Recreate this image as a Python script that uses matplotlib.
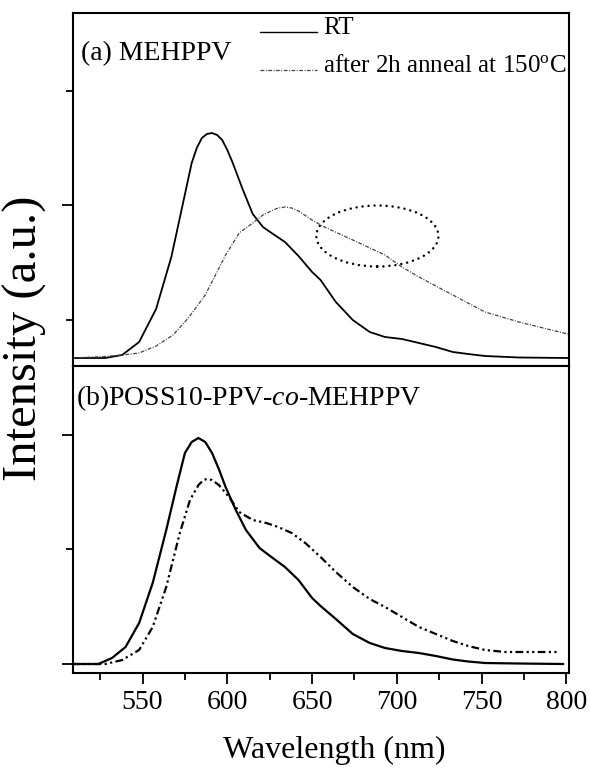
import matplotlib
matplotlib.use('Agg')
import matplotlib.pyplot as plt
from matplotlib.patches import Ellipse
from matplotlib.ticker import FixedLocator, NullFormatter

plt.rcParams['font.family'] = ['Liberation Serif', 'DejaVu Serif']
plt.rcParams['mathtext.fontset'] = 'custom'
plt.rcParams['mathtext.rm'] = 'Liberation Serif'
plt.rcParams['mathtext.it'] = 'Liberation Serif:italic'

# (a) MEHPPV, PL spectra (a.u.)
wl_a_rt = [508, 528, 538, 548, 558, 567, 573, 579, 582, 585, 588, 591, 594, 597,
           600, 603, 609, 615, 621, 627, 634, 642, 650, 655, 664, 674, 684, 693,
           703, 713, 723, 733, 742, 752, 772, 801]
int_a_rt = [0, 0, 3, 16, 49, 101, 148, 195, 210, 220, 224, 225, 223, 218,
            208, 196, 169, 144, 131, 124, 116, 102, 86, 78, 56, 38, 26, 21,
            19, 15, 11, 6, 4, 2, 0.5, 0]
wl_a_ann = [508, 528, 538, 548, 558, 568, 577, 587, 593, 599, 607, 615, 621, 627,
            630, 634, 638, 642, 650, 656, 674, 693, 703, 713, 733, 752, 772, 791, 801]
int_a_ann = [0, 1.5, 3, 5, 12, 23, 40, 63, 83, 103, 125, 135, 143, 148,
             150, 151, 150, 147, 138, 132, 118, 103, 91, 81, 63, 46, 36, 28, 24]

# (b) POSS10-PPV-co-MEHPPV
wl_b_rt = [508, 524, 532, 540, 548, 556, 564, 570, 575, 579, 583, 587, 591, 595,
           599, 605, 611, 619, 626, 634, 642, 650, 655, 664, 674, 684, 693, 703,
           713, 723, 733, 742, 752, 772, 798]
int_b_rt = [0, 0, 6, 17, 41, 81, 134, 177, 211, 222, 226, 222, 211, 195,
            177, 154, 134, 116, 107, 97, 84, 66, 58, 45, 30, 21, 16, 13,
            11, 8, 4.5, 2.5, 1, 0.5, 0]
wl_b_ann = [508, 528, 538, 548, 556, 564, 572, 578, 583, 586, 588, 591, 595, 601,
            607, 615, 623, 630, 638, 646, 655, 664, 674, 684, 693, 703, 713, 723,
            733, 742, 752, 764, 772, 796]
int_b_ann = [0, 0, 4, 14, 37, 77, 131, 164, 179, 184, 185, 184, 179, 167,
             152, 144, 141, 137, 131, 121, 107, 92, 77, 65, 57, 47, 37, 30,
             23, 18, 14, 12, 12, 12]

x_major = [550, 600, 650, 700, 750, 800]
x_minor = [525, 575, 625, 675, 725, 775]
ya_major, ya_minor = [153], [38, 267]
yb_major, yb_minor = [0, 229], [115]

# dotted circle marking the shoulder
ell_center = (688.5, 122)
ell_w, ell_h = 72, 61

ann_style = (0, (3, 1.2, 0.8, 1.2))

fig = plt.figure(figsize=(5.9, 7.75), dpi=100)
ax1 = fig.add_axes([0.1237, 0.52774, 0.8407, 0.45548])
ax2 = fig.add_axes([0.1237, 0.13161, 0.8407, 0.39613])

ax1.plot(wl_a_rt, int_a_rt, color='black', lw=1.3)
ax1.plot(wl_a_ann, int_a_ann, color='#444444', lw=0.9, linestyle=ann_style)
ax1.add_patch(Ellipse(ell_center, ell_w, ell_h, fill=False, color='black',
                      lw=1.8, linestyle=(0, (0.01, 2.4)), capstyle='round'))

ax2.plot(wl_b_rt, int_b_rt, color='black', lw=1.6)
ax2.plot(wl_b_ann, int_b_ann, color='black', lw=1.6,
         dashes=(3.5, 1.5, 1, 1.5, 1, 1.5))

for ax in (ax1, ax2):
    ax.set_xlim(509, 801.5)
    for s in ax.spines.values():
        s.set_linewidth(1.5)
    ax.tick_params(which='both', direction='out', width=1.3,
                   top=False, right=False, labelleft=False)
    ax.tick_params(which='major', length=8)
    ax.tick_params(which='minor', length=5)

ax1.set_ylim(-8, 345)
ax2.set_ylim(-9, 298)

ax1.yaxis.set_major_locator(FixedLocator(ya_major))
ax1.yaxis.set_minor_locator(FixedLocator(ya_minor))
ax2.yaxis.set_major_locator(FixedLocator(yb_major))
ax2.yaxis.set_minor_locator(FixedLocator(yb_minor))
ax1.tick_params(axis='x', which='both', bottom=False, labelbottom=False)

ax2.xaxis.set_major_locator(FixedLocator(x_major))
ax2.xaxis.set_minor_locator(FixedLocator(x_minor))
ax2.xaxis.set_minor_formatter(NullFormatter())
ax2.tick_params(axis='x', labelsize=20, pad=4)

ax1.text(0.016, 0.867, '(a) MEHPPV', transform=ax1.transAxes,
         fontsize=20, va='baseline', ha='left')
ax1.plot([0.377, 0.492], [0.946, 0.946], transform=ax1.transAxes,
         color='black', lw=1.0)
ax1.plot([0.377, 0.492], [0.8385, 0.8385], transform=ax1.transAxes,
         color='#444444', lw=0.9, linestyle=ann_style)
ax1.text(0.504, 0.9405, 'RT', transform=ax1.transAxes,
         fontsize=18, va='baseline', ha='left')
ax1.text(0.504, 0.833, 'after 2h anneal at 150$^{\\mathrm{o}}$C',
         transform=ax1.transAxes, fontsize=18, va='baseline', ha='left')

ax2.text(0.006, 0.873, '(b)POSS10-PPV-$\\mathit{co}$-MEHPPV',
         transform=ax2.transAxes, fontsize=20, va='baseline', ha='left')

fig.text(25 / 590, 1 - 338 / 775, 'Intensity (a.u.)', rotation=90,
         fontsize=35, ha='center', va='center')
fig.text(334 / 590, 1 - 750 / 775, 'Wavelength (nm)',
         fontsize=23, ha='center', va='center')

fig.savefig('out.png', dpi=100)
